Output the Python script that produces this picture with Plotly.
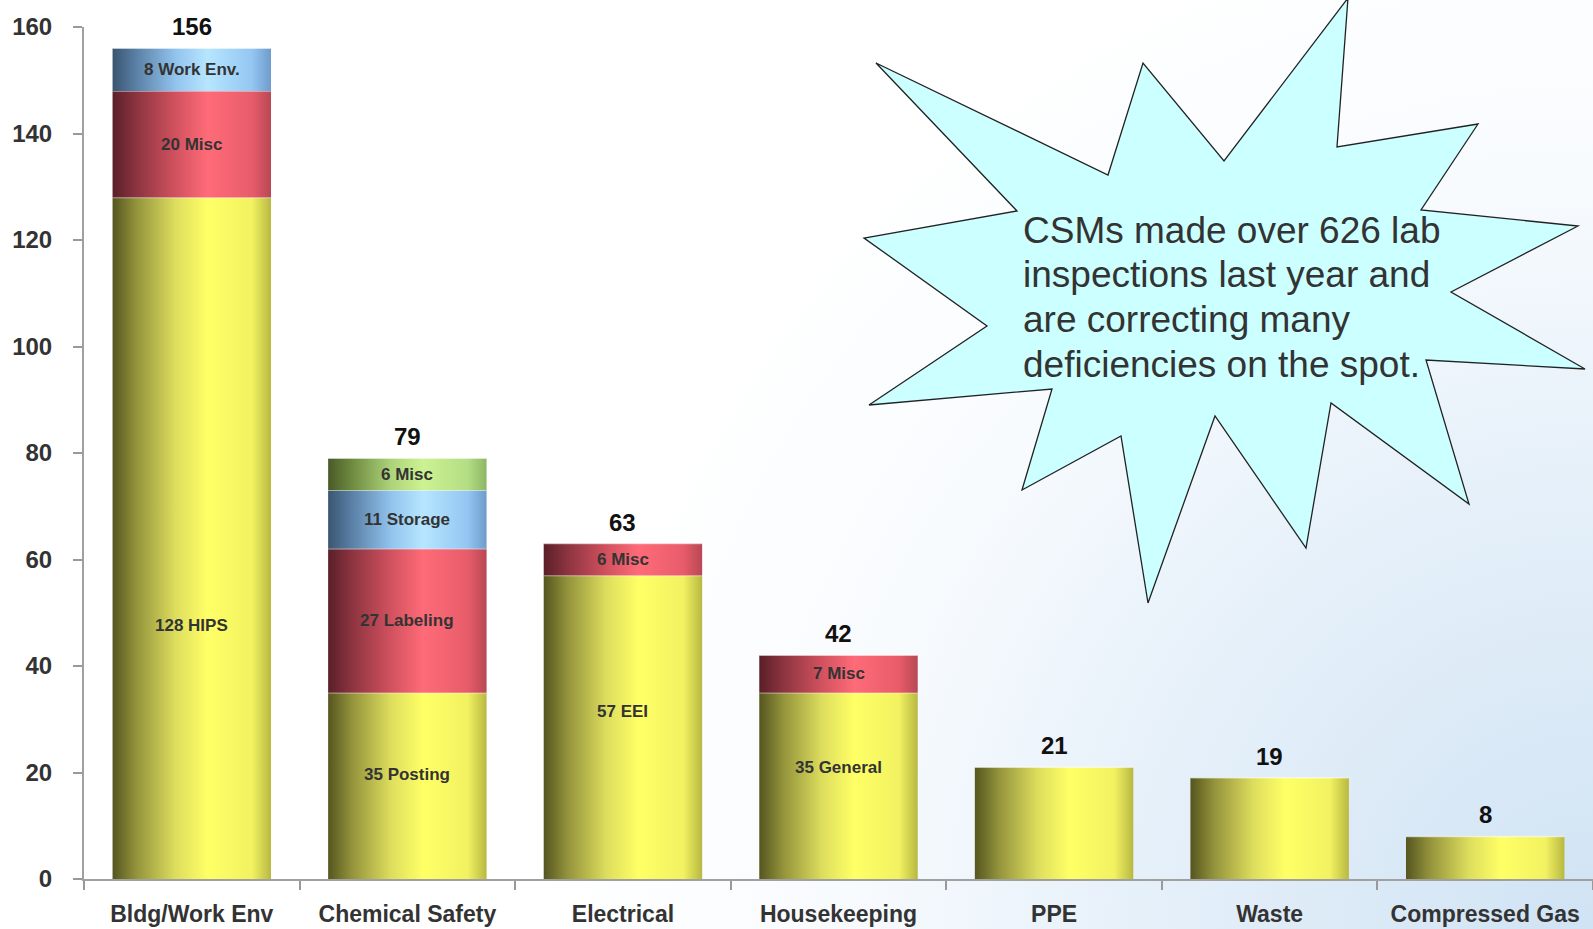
import base64
import plotly.graph_objects as go

# ---- data -------------------------------------------------------------
categories = ["Bldg/Work Env", "Chemical Safety", "Electrical", "Housekeeping",
              "PPE", "Waste", "Compressed Gas"]

# stacked segments, bottom to top
base_vals = [128, 35, 57, 35, 21, 19, 8]
base_text = ["128 HIPS", "35 Posting", "57 EEI", "35 General", "", "", ""]

red_vals = [20, 27, 6, 7, 0, 0, 0]
red_text = ["20 Misc", "27 Labeling", "6 Misc", "7 Misc", "", "", ""]

blue_vals = [8, 11, 0, 0, 0, 0, 0]
blue_text = ["8 Work Env.", "11 Storage", "", "", "", "", ""]

green_vals = [0, 6, 0, 0, 0, 0, 0]
green_text = ["", "6 Misc", "", "", "", "", ""]

y_ticks = [0, 20, 40, 60, 80, 100, 120, 140, 160]

callout_lines = ["CSMs made over 626 lab", "inspections last year and",
                 "are correcting many", "deficiencies on the spot."]

# ---- styling ----------------------------------------------------------
W, H = 1593, 929
ML, MR, MT, MB = 84, 0, 27, 50
PW, PH = W - ML - MR, H - MT - MB
BAR_W = 0.735

SANS = "Liberation Sans, Arial, sans-serif"

shades = {
    "base": [[0, "#55551f"], [0.15, "#93933c"], [0.4, "#dede5e"], [0.6, "#ffff66"],
             [0.88, "#f2f262"], [1, "#b8b842"]],
    "red": [[0, "#5a1f28"], [0.15, "#8c3440"], [0.4, "#d2525f"], [0.6, "#ff6b78"],
            [0.88, "#e85c6a"], [1, "#b84854"]],
    "blue": [[0, "#3a5570"], [0.15, "#5a80a6"], [0.4, "#92c4ee"], [0.6, "#b6e6ff"],
             [0.88, "#94c6f2"], [1, "#6e9ccc"]],
    "green": [[0, "#4a5a28"], [0.15, "#6e8a40"], [0.4, "#aed47a"], [0.6, "#ccf292"],
              [0.88, "#b4de84"], [1, "#8cb662"]],
}

series = [
    ("base", base_vals, base_text),
    ("red", red_vals, red_text),
    ("blue", blue_vals, blue_text),
    ("green", green_vals, green_text),
]

# label heights inside the bottom segments
base_label_at = [47.6, 19.7, 31.5, 21.0]

fig = go.Figure()
annotations = []

bottoms = [0] * len(categories)
for name, vals, texts in series:
    for i, v in enumerate(vals):
        if v <= 0:
            continue
        y0, y1 = bottoms[i], bottoms[i] + v
        x0, x1 = i - BAR_W / 2, i + BAR_W / 2
        fig.add_trace(go.Scatter(
            x=[x0, x1, x1, x0, x0], y=[y0, y0, y1, y1, y0],
            mode="lines", fill="toself", line=dict(width=0, color="rgba(0,0,0,0)"),
            fillgradient=dict(type="horizontal", colorscale=shades[name]),
            hoverinfo="skip", showlegend=False,
        ))
        # faint highlight along the segment top
        fig.add_trace(go.Scatter(
            x=[x0, x1], y=[y1, y1], mode="lines",
            line=dict(width=1.5, color="rgba(255,255,255,0.55)"),
            hoverinfo="skip", showlegend=False,
        ))
        if texts[i]:
            if name == "base" and i < len(base_label_at):
                ly = base_label_at[i]
            else:
                ly = (y0 + y1) / 2
            annotations.append(dict(
                x=i, y=ly, xref="x", yref="y", text=texts[i], showarrow=False,
                font=dict(family=SANS, size=17, color="#333333", weight="bold"),
            ))
        bottoms[i] = y1

# totals above each stack
for i, total in enumerate(bottoms):
    annotations.append(dict(
        x=i, y=total, xref="x", yref="y", text=str(total), showarrow=False,
        yanchor="bottom", yshift=6,
        font=dict(family=SANS, size=24, color="#111111", weight="bold"),
    ))

# starburst call-out, outline in pixel positions
burst_px = [(876, 63), (1108, 175), (1143, 63), (1224, 161), (1348, -2), (1337, 147),
            (1478, 124), (1421, 210), (1578, 226), (1451, 292), (1585, 369),
            (1426, 360), (1469, 504), (1331, 403), (1306, 548), (1215, 416),
            (1148, 603), (1121, 436), (1022, 490), (1052, 389), (869, 405),
            (987, 326), (864, 238), (1017, 211)]


def to_paper(px, py):
    return (px - ML) / PW, (H - MB - py) / PH


pts = [to_paper(px, py) for px, py in burst_px]
path = "M " + " L ".join(f"{x:.5f},{y:.5f}" for x, y in pts) + " Z"
shapes = [dict(type="path", path=path, xref="paper", yref="paper",
               fillcolor="#ccffff", line=dict(color="#222222", width=1.3),
               layer="above")]

# call-out text, one annotation per line for tight leading
for k, line in enumerate(callout_lines):
    tx, ty = to_paper(1021, 230 + 44.7 * k)
    annotations.append(dict(
        x=tx, y=ty, xref="paper", yref="paper", text=line, showarrow=False,
        xanchor="left", yanchor="middle", align="left",
        font=dict(family=SANS, size=37, color="#333333"),
    ))

# soft blue wash toward the lower right corner
svg = (
    f'<svg xmlns="http://www.w3.org/2000/svg" width="{W}" height="{H}">'
    '<defs><radialGradient id="g" cx="1593" cy="929" r="1050" gradientUnits="userSpaceOnUse">'
    '<stop offset="0" stop-color="#d0e3f4"/><stop offset="0.4" stop-color="#e4eff9"/>'
    '<stop offset="0.72" stop-color="#f8fbfe"/><stop offset="1" stop-color="#ffffff"/>'
    '</radialGradient></defs>'
    f'<rect width="{W}" height="{H}" fill="url(#g)"/></svg>'
)
bg_src = "data:image/svg+xml;base64," + base64.b64encode(svg.encode()).decode()

fig.update_layout(
    width=W, height=H,
    margin=dict(l=ML, r=MR, t=MT, b=MB),
    paper_bgcolor="white", plot_bgcolor="rgba(0,0,0,0)",
    showlegend=False,
    annotations=annotations,
    shapes=shapes,
    images=[dict(source=bg_src, xref="paper", yref="paper",
                 x=-ML / PW, y=1 + MT / PH, sizex=W / PW, sizey=H / PH,
                 xanchor="left", yanchor="top", sizing="stretch", layer="below")],
    xaxis=dict(
        range=[-0.5, len(categories) - 0.5], showgrid=False, zeroline=False,
        automargin=False, tickangle=0,
        tickmode="array", tickvals=list(range(len(categories))), ticktext=categories,
        ticks="outside", ticklen=9, tickcolor="rgba(0,0,0,0)",
        minor=dict(tickmode="array", tickvals=[i - 0.5 for i in range(len(categories) + 1)],
                   ticks="outside", ticklen=9, tickcolor="#999999", tickwidth=2),
        showline=True, linecolor="#a0a0a0", linewidth=2,
        tickfont=dict(family=SANS, size=23, color="#333333", weight="bold"),
        ticklabelstandoff=4,
    ),
    yaxis=dict(
        range=[0, 160], showgrid=False, zeroline=False, automargin=False,
        tickmode="array", tickvals=y_ticks,
        ticks="outside", ticklen=9, tickcolor="#999999", tickwidth=2,
        showline=True, linecolor="#a0a0a0", linewidth=2,
        tickfont=dict(family=SANS, size=24, color="#333333", weight="bold"),
        ticklabelstandoff=16,
    ),
)

fig.write_html("out.html")
